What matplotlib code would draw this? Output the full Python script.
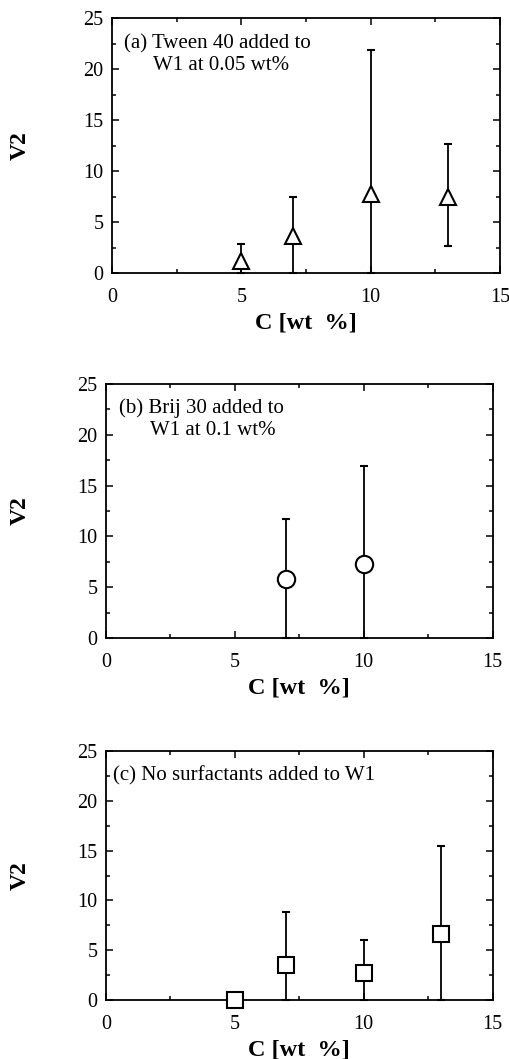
import matplotlib.pyplot as plt
from matplotlib.ticker import MultipleLocator

plt.rcParams['font.family'] = ['Liberation Serif', 'DejaVu Serif']

# (a) Tween 40
c_a = [5, 7, 10, 13]
v_a = [1.15, 3.6, 7.8, 7.45]
hi_a = [2.9, 7.5, 21.9, 12.7]
lo_a = [0, 0, 0, 2.7]

# (b) Brij 30
c_b = [7, 10]
v_b = [5.85, 7.25]
hi_b = [11.7, 16.9]
lo_b = [0, 0]

# (c) no surfactant
c_c = [5, 7, 10, 13]
v_c = [0.05, 3.5, 2.7, 6.6]
hi_c = [0.05, 8.8, 6.0, 15.5]
lo_c = [0, 0, 0, 0]

fig = plt.figure(figsize=(5.09, 10.59), dpi=100)

panels = [
    ([0.220, 0.742, 0.762, 0.241], c_a, v_a, lo_a, hi_a, '^', 12,
     [("(a) Tween 40 added to", 0.03, 0.882), ("W1 at 0.05 wt%", 0.106, 0.796)], -0.209, 0.153),
    ([0.208, 0.3975, 0.760, 0.240], c_b, v_b, lo_b, hi_b, 'o', 12.5,
     [("(b) Brij 30 added to", 0.034, 0.887), ("W1 at 0.1 wt%", 0.114, 0.799)], -0.194, 0.154),
    ([0.208, 0.0557, 0.760, 0.235], c_c, v_c, lo_c, hi_c, 's', 11,
     [("(c) No surfactants added to W1", 0.018, 0.881)], -0.194, 0.16),
]

for rect, x, y, lo, hi, mk, ms, notes, ylab_x, xlab_y in panels:
    ax = fig.add_axes(rect)
    err = [[yi - l for yi, l in zip(y, lo)], [h - yi for yi, h in zip(y, hi)]]
    ax.errorbar(x, y, yerr=err, fmt=mk, ms=ms, mfc='white', mec='black', mew=1.5,
                ecolor='black', elinewidth=1.3, capsize=3, capthick=1.3, zorder=3,
                clip_on=False)
    ax.set_xlim(0, 15)
    ax.set_ylim(0, 25)
    ax.xaxis.set_major_locator(MultipleLocator(5))
    ax.xaxis.set_minor_locator(MultipleLocator(2.5))
    ax.yaxis.set_major_locator(MultipleLocator(5))
    ax.yaxis.set_minor_locator(MultipleLocator(2.5))
    ax.tick_params(which='both', direction='in', top=True, right=True,
                   labelsize=14.5, width=1.1)
    ax.tick_params(which='major', length=5)
    ax.tick_params(which='minor', length=3)
    ax.tick_params(axis='x', which='major', pad=11)
    ax.tick_params(axis='y', which='major', pad=6)
    for s in ax.spines.values():
        s.set_linewidth(1.3)
    ax.set_xlabel("C [wt  %]", fontsize=17.5, fontweight='bold')
    ax.set_ylabel("V2", fontsize=17, fontweight='bold')
    ax.xaxis.set_label_coords(0.5, -xlab_y)
    ax.yaxis.set_label_coords(ylab_x, 0.5)
    for txt, tx, ty in notes:
        ax.text(tx, ty, txt, transform=ax.transAxes, fontsize=15, va='baseline')

fig.savefig("out.png", dpi=100)
